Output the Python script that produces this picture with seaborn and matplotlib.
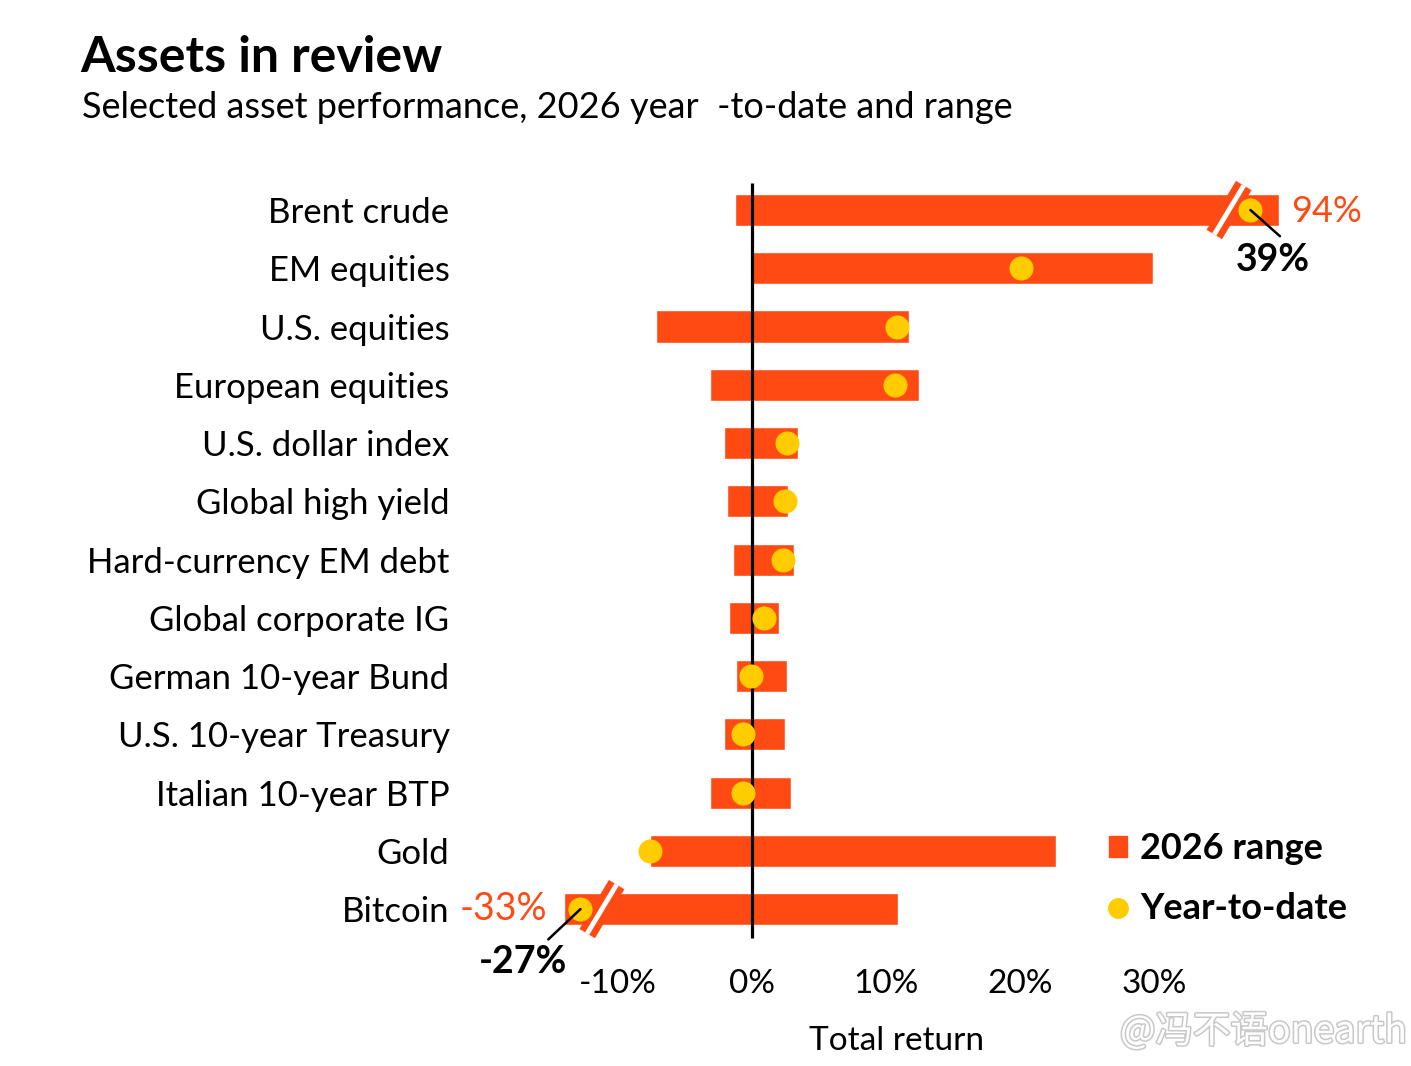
import matplotlib
matplotlib.use('Agg')
import matplotlib.pyplot as plt
import matplotlib.patheffects as pe
from matplotlib.lines import Line2D
from matplotlib.patches import Patch
import numpy as np
import pandas as pd
import seaborn as sns

assets = ['Brent crude', 'EM equities', 'U.S. equities', 'European equities',
          'U.S. dollar index', 'Global high yield', 'Hard-currency EM debt',
          'Global corporate IG', 'German 10-year Bund', 'U.S. 10-year Treasury',
          'Italian 10-year BTP', 'Gold', 'Bitcoin']
# 2026 range (low / high) and year-to-date, in % as drawn (Brent and Bitcoin cut at the axis break)
range_low = [-1.3, 0.0, -7.2, -3.1, -2.1, -1.9, -1.4, -1.7, -1.2, -2.1, -3.1, -7.6, -14.0]
range_high = [39.3, 29.9, 11.7, 12.5, 3.4, 2.7, 3.1, 2.0, 2.6, 2.5, 2.9, 22.7, 10.9]
ytd = [37.2, 20.1, 10.8, 10.7, 2.6, 2.5, 2.3, 0.9, -0.1, -0.7, -0.7, -7.6, -12.8]
xticks = [-10, 0, 10, 20, 30]

RED = '#ff4a14'
YELLOW = '#ffcc00'
FONT = 'Lato'

sns.set_style('white')
plt.rcParams['font.family'] = [FONT, 'DejaVu Sans']
plt.rcParams['text.color'] = 'black'
plt.rcParams['xtick.color'] = 'black'
plt.rcParams['ytick.color'] = 'black'
plt.rcParams['axes.labelcolor'] = 'black'

df = pd.DataFrame({'asset': assets, 'low': range_low, 'high': range_high, 'ytd': ytd})
df['pos'] = np.arange(len(df))

fig = plt.figure(figsize=(14.11, 10.66), dpi=100)
ax = fig.add_axes([0.3905, 0.1144, 0.5223, 0.7214])

ax.barh(df.pos, df.high - df.low, left=df.low, height=0.55, color=RED, zorder=2)
ax.vlines(0, -0.46, 12.5, color='black', lw=2.3, zorder=3)

# axis breaks
for xb, yb in [(35.6, 0), (-11.2, 12)]:
    ax.plot([xb - 1.1, xb + 1.1], [yb + 0.42, yb - 0.42], color=RED, lw=13,
            solid_capstyle='butt', zorder=4)
    ax.plot([xb - 1.1, xb + 1.1], [yb + 0.42, yb - 0.42], color='white', lw=3.5,
            solid_capstyle='butt', zorder=5)

sns.scatterplot(data=df, x='ytd', y='pos', color=YELLOW, s=300, linewidth=0,
                ax=ax, zorder=6, legend=False)

ax.set_xlim(-15, 40)
ax.set_ylim(12.6, -0.6)
ax.set_yticks(df.pos, df.asset)
ax.set_xticks(xticks, [f'{t}%' for t in xticks])
ax.tick_params(axis='y', length=0, pad=73, labelsize=25)
ax.tick_params(axis='x', length=0, pad=18, labelsize=24)
sns.despine(ax=ax, left=True, bottom=True)
ax.set_ylabel('')
ax.set_xlabel('Total return', fontsize=24)
ax.xaxis.set_label_coords((897 - 551) / 737, -0.107)

# annotations for the cut bars
ax.text(40.2, 0.03, '94%', color=RED, fontsize=26, va='center', ha='left')
ax.plot([37.2, 39.4], [0, 0.45], color='black', lw=1.8, zorder=7, clip_on=False)
ax.text(38.9, 0.86, '39%', fontsize=27, fontweight='bold', va='center', ha='center')
ax.text(-15.3, 12, '-33%', color=RED, fontsize=27, va='center', ha='right')
ax.plot([-12.8, -15.2], [12, 12.52], color='black', lw=1.8, zorder=7, clip_on=False)
ax.text(-17.1, 12.9, '-27%', fontsize=27, fontweight='bold', va='center', ha='center')

handles = [Patch(color=RED, label='2026 range'),
           Line2D([], [], marker='o', color=YELLOW, lw=0, markersize=14,
                  label='Year-to-date')]
ax.legend(handles=handles, loc='upper left', bbox_to_anchor=(0.733, 0.169),
          frameon=False, borderpad=0, handlelength=0.5, handleheight=0.5,
          handletextpad=0.35, labelspacing=0.75,
          prop={'family': FONT, 'weight': 'bold', 'size': 26})

fig.text(80 / 1411, 1 - 57 / 1066, 'Assets in review', fontsize=36,
         fontweight='bold', va='center', ha='left')
fig.text(82 / 1411, 1 - 108 / 1066,
         'Selected asset performance, 2026 year  -to-date and range',
         fontsize=26, va='center', ha='left')

fig.text(1120 / 1411, 1 - 1032 / 1066, '@冯不语onearth', fontsize=27,
         color='white', va='center', ha='left',
         family=['Noto Sans CJK SC', 'DejaVu Sans'],
         path_effects=[pe.withStroke(linewidth=2.2, foreground='#c8c8c8')])

fig.savefig('out.png', dpi=100, facecolor='white')
